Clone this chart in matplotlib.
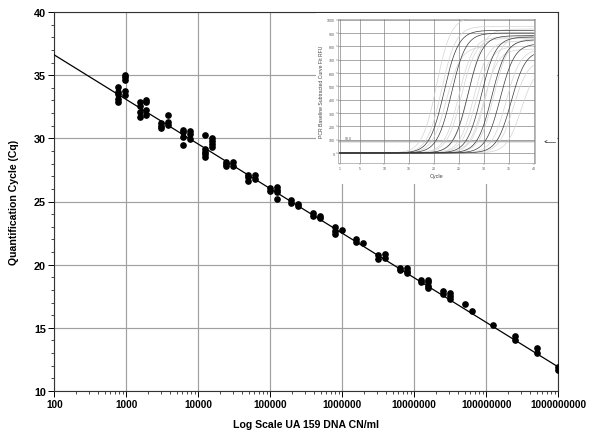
import numpy as np
import matplotlib
matplotlib.use("Agg")
import matplotlib.pyplot as plt
from matplotlib.patches import Rectangle
from matplotlib.ticker import FixedLocator, NullFormatter, LogLocator

plt.rcParams['font.family'] = ['Liberation Sans', 'DejaVu Sans']

# ---------------- data (main chart) ----------------
conc = [763, 954, 1526, 1907, 3052, 3815, 6104, 7629, 12207, 15259,
        24414, 30518, 48828, 61035, 97656, 122070, 195313, 244141,
        390625, 488281, 781250, 976563, 1562500, 1953125, 3125000, 3906250,
        6250000, 7812500, 12500000, 15625000, 25000000, 31250000,
        50000000, 62500000, 125000000, 250000000, 500000000, 1000000000]
cq_groups = [
    [34.04, 33.64, 33.51, 33.11, 32.85],
    [35.04, 34.83, 34.64, 33.77, 33.43],
    [32.85, 32.58, 32.11, 31.71],
    [33.03, 32.85, 32.27, 31.85],
    [31.21, 31.00, 30.79],
    [31.87, 31.27, 31.08],
    [30.68, 30.48, 30.08, 29.47],
    [30.55, 30.34, 29.95],
    [30.29, 29.16, 28.94, 28.76, 28.50],
    [30.00, 29.77, 29.55, 29.29],
    [28.15, 27.97, 27.79],
    [28.10, 27.83],
    [27.12, 26.91, 26.65],
    [27.10, 26.78],
    [26.04, 25.85],
    [26.12, 25.91, 25.73, 25.20],
    [25.10, 24.90],
    [24.80, 24.62],
    [24.07, 23.83],
    [23.83, 23.67],
    [22.96, 22.69, 22.43],
    [22.77],
    [22.03, 21.77],
    [21.71],
    [20.79, 20.45],
    [20.84, 20.53],
    [19.71, 19.60],
    [19.74, 19.52, 19.34],
    [18.81, 18.60],
    [18.79, 18.60, 18.34, 18.13],
    [17.89, 17.68],
    [17.76, 17.54, 17.28],
    [16.89],
    [16.36],
    [15.22],
    [14.33, 14.06],
    [13.38, 13.00],
    [11.87, 11.68],
]
# standard-curve end points
fit_x = [100, 1000000000]
fit_cq = [36.6, 11.9]

x_ticks = [100, 1000, 10000, 100000, 1000000, 10000000, 100000000, 1000000000]
x_ticklabels = ["100", "1000", "10000", "100000", "1000000", "10000000",
                "100000000", "1000000000"]
y_ticks = [10, 15, 20, 25, 30, 35, 40]

# ---------------- data (inset amplification curves) ----------------
dark_mid = [22.0, 23.5, 26.8, 29.5, 31.6, 33.3, 35.5]
dark_plateau = [920, 900, 880, 870, 850, 820, 770]
light_mid = [20.5, 21.5, 22.5, 25.0, 25.5, 27.0, 28.0, 28.5, 30.0, 30.5,
             32.0, 34.5, 36.0, 37.5]
light_plateau = [1020, 950, 800, 870, 860, 930, 840, 800, 780, 880,
                 860, 780, 700, 650]
inset_xticks = [1, 5, 10, 15, 20, 25, 30, 35, 40]
inset_yticks = [0, 100, 200, 300, 400, 500, 600, 700, 800, 900, 1000]
threshold = 90.0

# ---------------- figure ----------------
fig = plt.figure(figsize=(6.0, 4.39), dpi=100)
W, H = 600.0, 439.0
ax = fig.add_axes([54.3 / W, 1 - 392 / H, (558.3 - 54.3) / W, (392 - 13) / H])

xs, ys = [], []
for c, g in zip(conc, cq_groups):
    for v in g:
        xs.append(c)
        ys.append(v)

ax.plot(fit_x, fit_cq, color='black', lw=0.9, zorder=3)
ax.plot(xs, ys, 'o', color='black', ms=3.8, mec='black', zorder=4)

ax.set_xscale('log')
ax.set_xlim(100, 1e9)
ax.set_ylim(10, 40)
ax.set_xticks(x_ticks)
ax.set_xticklabels(x_ticklabels)
ax.xaxis.set_minor_locator(LogLocator(base=10, subs=np.arange(2, 10), numticks=20))
ax.xaxis.set_minor_formatter(NullFormatter())
ax.set_yticks(y_ticks)
ax.yaxis.set_minor_locator(FixedLocator(np.arange(10, 41, 1)))
ax.grid(True, which='major', color='#a0a0a0', lw=0.85)
ax.set_axisbelow(True)
for lab in ax.get_xticklabels() + ax.get_yticklabels():
    lab.set_fontweight('bold')
ax.tick_params(axis='x', which='major', labelsize=7.2, length=4, width=0.7,
               direction='out', pad=2)
ax.tick_params(axis='y', which='major', labelsize=7.8, length=4, width=0.7,
               direction='out', pad=2)
ax.tick_params(axis='both', which='minor', length=2, width=0.5, direction='out')
for s in ax.spines.values():
    s.set_linewidth(0.8)
    s.set_color('#333333')
ax.set_xlabel("Log Scale UA 159 DNA CN/ml", fontsize=7.6, fontweight='bold', labelpad=7)
ax.set_ylabel("Quantification Cycle (Cq)", fontsize=7.6, fontweight='bold', labelpad=11)

# white backing for inset
rect = Rectangle((316 / W, 1 - 185 / H), (557 - 316) / W, (185 - 14) / H,
                 transform=fig.transFigure, facecolor='white', edgecolor='none',
                 zorder=2)
fig.add_artist(rect)

# inset
iax = fig.add_axes([337.7 / W, 1 - 164 / H, (535 - 337.7) / W, (164 - 20) / H],
                   zorder=3)
iax.set_facecolor('white')
cyc = np.linspace(1, 40, 400)
for m, p in zip(light_mid, light_plateau):
    iax.plot(cyc, p / (1 + np.exp(-(cyc - m) / 1.45)), color='#d4d4d4', lw=0.5)
for m, p in zip(dark_mid, dark_plateau):
    iax.plot(cyc, p / (1 + np.exp(-(cyc - m) / 1.45)), color='#3a3a3a', lw=0.5)
iax.axhspan(threshold - 12, threshold + 10, color='#e6e6e6', zorder=0.5, lw=0)
iax.axhline(threshold, color='#999999', lw=0.4)
iax.text(2.0, threshold + 8, "90.0", fontsize=2.6, color='#555555', va='bottom')
iax.set_xlim(0.6, 40.3)
iax.set_ylim(-75, 1005)
iax.set_xticks(inset_xticks)
iax.set_yticks(inset_yticks)
iax.grid(True, color='#7a7a7a', lw=0.45)
iax.set_axisbelow(True)
iax.tick_params(labelsize=2.6, length=1.2, width=0.3, pad=1, colors='#555555')
for s in iax.spines.values():
    s.set_linewidth(0.4)
    s.set_color('#888888')
iax.set_xlabel("Cycle", fontsize=4, color='#444444', labelpad=2)
iax.set_ylabel("PCR Baseline Subtracted Curve Fit RFU", fontsize=3.7,
               color='#444444', labelpad=2)

# arrow at threshold level on the right
ty = 1 - 142.5 / H
fig.add_artist(plt.Line2D([545 / W, 555 / W], [ty, ty], transform=fig.transFigure,
                          color='#444444', lw=0.5, zorder=4))
fig.add_artist(plt.Line2D([545 / W, 547 / W], [ty, ty + 1.0 / H], transform=fig.transFigure,
                          color='#444444', lw=0.5, zorder=4))
fig.add_artist(plt.Line2D([545 / W, 547 / W], [ty, ty - 1.0 / H], transform=fig.transFigure,
                          color='#444444', lw=0.5, zorder=4))

fig.savefig("out.png", dpi=100)
